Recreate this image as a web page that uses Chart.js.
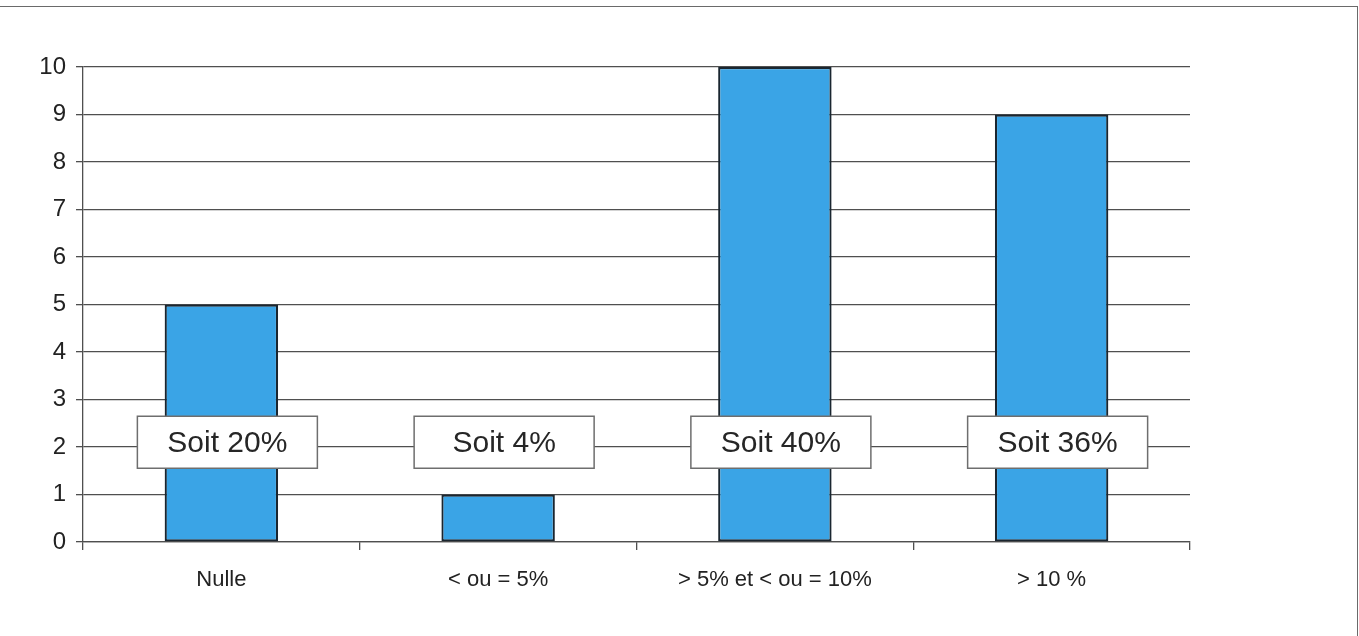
<!DOCTYPE html>
<html>
<head>
<meta charset="utf-8">
<script src="https://cdn.jsdelivr.net/npm/chart.js@4/dist/chart.umd.min.js"></script>
<style>
  html, body { margin: 0; padding: 0; background: #fff; }
  #wrap { position: relative; width: 1359px; height: 636px; overflow: hidden; }
  #frame { position: absolute; left: 0; top: 6px; width: 1358px; height: 640px;
           border-top: 1.5px solid #6a6a6a; border-right: 1.5px solid #6a6a6a; box-sizing: border-box; }
  canvas { position: absolute; left: 0; top: 0; }
</style>
</head>
<body>
<div id="wrap">
  <div id="frame"></div>
  <canvas id="c" width="1359" height="636"></canvas>
</div>
<script>
const categories = ["Nulle", "< ou = 5%", "> 5% et < ou = 10%", "> 10 %"];
const counts = [5, 1, 10, 9];
const shareLabels = ["Soit 20%", "Soit 4%", "Soit 40%", "Soit 36%"];
const shareLabelLevel = [2.1, 2.1, 2.1, 2.1];
const yTicks = [0, 1, 2, 3, 4, 5, 6, 7, 8, 9, 10];

const boxPlugin = {
  id: 'shareBoxes',
  afterDatasetsDraw(chart) {
    const ctx = chart.ctx;
    const xs = chart.scales.x, ys = chart.scales.y;
    ctx.save();
    ctx.font = '30px "Liberation Sans", Arial, sans-serif';
    ctx.textAlign = 'center';
    ctx.textBaseline = 'middle';
    shareLabels.forEach((t, i) => {
      const cx = xs.getPixelForValue(i) + 6;
      const cy = ys.getPixelForValue(shareLabelLevel[i]);
      const w = 180, h = 52;
      ctx.fillStyle = '#ffffff';
      ctx.fillRect(cx - w / 2, cy - h / 2, w, h);
      ctx.strokeStyle = '#6e6e6e';
      ctx.lineWidth = 1.5;
      ctx.strokeRect(cx - w / 2, cy - h / 2, w, h);
      ctx.fillStyle = '#262626';
      ctx.fillText(t, cx, cy + 1);
    });
    ctx.restore();
  }
};

new Chart(document.getElementById('c'), {
  type: 'bar',
  data: {
    labels: categories,
    datasets: [{
      data: counts,
      backgroundColor: '#3aa4e6',
      borderColor: '#1a2630',
      borderWidth: 2.2,
      borderSkipped: false,
      barPercentage: 0.41,
      categoryPercentage: 1
    }]
  },
  options: {
    responsive: false,
    animation: false,
    layout: { padding: { top: 67, right: 169, bottom: 0, left: 0 } },
    plugins: { legend: { display: false }, tooltip: { enabled: false } },
    scales: {
      x: {
        offset: true,
        grid: { offset: true, drawOnChartArea: false, drawTicks: true, tickLength: 8, color: '#4f4f4f', lineWidth: 1.3 },
        border: { display: true, color: '#4f4f4f', width: 1.3 },
        ticks: { color: '#222', font: { size: 22, family: '"Liberation Sans", Arial, sans-serif' }, padding: 17, maxRotation: 0 },
        afterFit(s) { s.height = 94; }
      },
      y: {
        min: 0, max: 10,
        afterBuildTicks(s) { s.ticks = yTicks.map(v => ({ value: v })); },
        grid: { color: '#4f4f4f', lineWidth: 1.3, tickLength: 7 },
        border: { display: true, color: '#4f4f4f', width: 1.3 },
        ticks: { color: '#222', font: { size: 24, family: '"Liberation Sans", Arial, sans-serif' }, padding: 10 },
        afterFit(s) { s.width = 83; }
      }
    }
  },
  plugins: [boxPlugin]
});
</script>
</body>
</html>
